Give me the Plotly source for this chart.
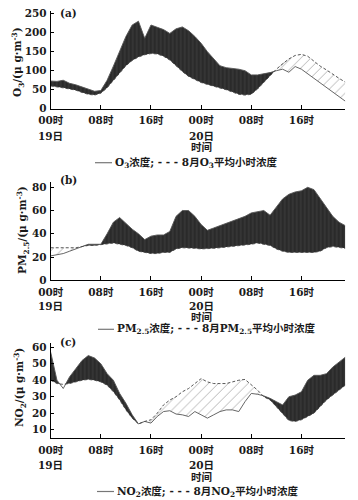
import numpy as np
import plotly.graph_objects as go

hours = list(range(48))

# O3 (μg·m-3)
o3_obs = [73, 72, 75, 67, 63, 57, 50, 46, 48, 75, 112, 150, 190, 220, 230, 185, 220, 214, 208, 198, 210, 215, 205, 190,
          172, 150, 130, 113, 108, 106, 104, 100, 89, 89, 92, 95, 100, 104, 96, 111, 104, 92, 80, 69, 57, 45, 33, 20]
o3_avg = [60, 58, 55, 52, 49, 43, 38, 36, 41, 55, 75, 95, 113, 127, 136, 142, 145, 144, 138, 128, 112, 98, 85, 76,
          69, 64, 60, 55, 50, 44, 38, 36, 38, 52, 70, 88, 104, 118, 131, 140, 143, 138, 125, 112, 102, 90, 80, 70]

# PM2.5
pm_obs = [21, 22, 23, 25, 27, 29, 31, 31, 31, 40, 50, 54, 49, 44, 40, 35, 38, 39, 39, 42, 55, 60, 60, 55,
          48, 43, 45, 47, 49, 51, 53, 55, 58, 59, 60, 56, 63, 70, 74, 76, 77, 80, 78, 70, 62, 55, 50, 47]
pm_avg = [28, 28, 28, 28, 28, 29, 30, 30, 30.5, 31, 32, 31, 30, 28, 25, 24, 23, 23, 24, 24, 27, 28, 28, 27.5,
          27, 27, 27.5, 28, 28.5, 29, 29.5, 30, 31, 32, 31, 30, 27, 25, 24, 24, 23.5, 24, 24, 25, 28, 29, 28, 27.5]

# NO2
no2_obs = [57, 40, 35, 42, 47, 52, 55, 53.5, 50, 44, 40, 32, 26, 19, 13.5, 15, 14, 18, 21, 21.5, 19.5, 19, 18, 21,
           19, 17, 19, 21, 22, 22, 21, 27, 32, 31.5, 30.5, 29, 27, 25, 30, 31, 33, 40, 43, 43, 44, 48, 51, 54]
no2_avg = [40, 38, 37.5, 38, 39, 40, 40.5, 40, 39, 37, 33, 28, 22, 17, 13.5, 15, 16, 20, 25, 28, 30, 33, 35, 38,
           41, 39, 38, 38, 38, 39, 40, 40.5, 37.5, 34, 30, 28, 24, 20, 15.5, 15, 16, 18, 20, 24, 28, 31, 34, 37]

tick_vals = [0, 8, 16, 24, 32, 40, 47]
tick_text = ["00时", "08时", "16时", "00时", "08时", "16时", ""]
day_labels = [(0, "19日"), (24, "20日")]

OFF = 8                      # page body margin of the html page
W, H = 358 - OFF, 500 - OFF  # figure fills the rest of the window
X0, X1 = 50.7, 345.3         # plot left / right in window pixels

FONT = "DejaVu Serif, Noto Sans CJK SC, serif"


def px(x):
    return (x - OFF) / W


def py(y):
    return 1 - (y - OFF) / H


def split_fill(x, obs, avg):
    xs, o, a = [], [], []
    for i in range(len(x)):
        if i > 0:
            d0 = obs[i - 1] - avg[i - 1]
            d1 = obs[i] - avg[i]
            if d0 * d1 < 0:
                t = d0 / (d0 - d1)
                xc = x[i - 1] + t * (x[i] - x[i - 1])
                yc = avg[i - 1] + t * (avg[i] - avg[i - 1])
                xs.append(xc); o.append(yc); a.append(yc)
        xs.append(x[i]); o.append(obs[i]); a.append(avg[i])
    o = np.array(o, float); a = np.array(a, float)
    return xs, a, np.maximum(o, a), np.minimum(o, a)


panels = [
    dict(obs=o3_obs, avg=o3_avg, yr=[0, 256], yt=[0, 50, 100, 150, 200, 250], bottom=108.8, top=11.3,
         label="(a)", label_y=13, ytitle="O<sub>3</sub>/(μ g·m<sup>-3</sup>)", ytitle_x=18, ytitle_y=62,
         day_y=136, xt_y=147, leg_y=162.7, leg_x0=95, leg_x1=112,
         leg="O<sub>3</sub>浓度; - - - 8月O<sub>3</sub>平均小时浓度"),
    dict(obs=pm_obs, avg=pm_avg, yr=[0, 85], yt=[0, 20, 40, 60, 80], bottom=280.3, top=181.5,
         label="(b)", label_y=180, ytitle="PM<sub>2.5</sub>/(μ g·m<sup>-3</sup>)", ytitle_x=23, ytitle_y=230,
         day_y=306, xt_y=317, leg_y=329.3, leg_x0=98, leg_x1=114,
         leg="PM<sub>2.5</sub>浓度; - - - 8月PM<sub>2.5</sub>平均小时浓度"),
    dict(obs=no2_obs, avg=no2_avg, yr=[5, 62.5], yt=[10, 20, 30, 40, 50, 60], bottom=437.9, top=343.2,
         label="(c)", label_y=341.7, ytitle="NO<sub>2</sub>/(μ g·m<sup>-3</sup>)", ytitle_x=20, ytitle_y=388,
         day_y=465, xt_y=476.8, leg_y=491.5, leg_x0=97, leg_x1=114,
         leg="NO<sub>2</sub>浓度; - - - 8月NO<sub>2</sub>平均小时浓度"),
]

fig = go.Figure()
dark = dict(shape="|", bgcolor="#2a2a2a", fgcolor="#585858", size=4, solidity=0.25)
hatch = dict(shape="/", bgcolor="rgba(255,255,255,0)", fgcolor="#555555", size=7, solidity=0.12)

layout = dict(width=W, height=H, margin=dict(l=0, r=0, t=0, b=0, autoexpand=False),
              paper_bgcolor="white", plot_bgcolor="white", showlegend=False,
              font=dict(family=FONT, size=10, color="#1a1a1a"))
annotations = []
shapes = []
TXT = dict(family=FONT, size=10.5, color="#1a1a1a")
TICK = dict(family=FONT, size=10.5, color="#1a1a1a", weight="bold")

for k, p in enumerate(panels):
    sfx = "" if k == 0 else str(k + 1)
    xa, ya = "x" + sfx, "y" + sfx
    xs, a, hi, lo = split_fill(hours, p["obs"], p["avg"])
    common = dict(xaxis=xa, yaxis=ya, mode="lines", hoverinfo="skip")
    fig.add_trace(go.Scatter(x=xs, y=a, line=dict(width=0), **common))
    fig.add_trace(go.Scatter(x=xs, y=hi, line=dict(width=0), fill="tonexty",
                             fillcolor="#2a2a2a", fillpattern=dark, **common))
    fig.add_trace(go.Scatter(x=xs, y=lo, line=dict(width=0), **common))
    fig.add_trace(go.Scatter(x=xs, y=a, line=dict(width=0), fill="tonexty",
                             fillcolor="rgba(255,255,255,0)", fillpattern=hatch, **common))
    fig.add_trace(go.Scatter(x=hours, y=p["obs"], line=dict(color="#555555", width=0.9), **common))
    fig.add_trace(go.Scatter(x=hours, y=p["avg"], line=dict(color="#444444", width=0.9, dash="3px,2px"), **common))

    layout["xaxis" + sfx] = dict(domain=[px(X0), px(X1)], anchor=ya, range=[0, 47], automargin=False,
                                 tickvals=tick_vals, ticktext=tick_text, ticklabeloverflow="allow",
                                 ticks="inside", ticklen=4, tickcolor="black", tickwidth=1,
                                 showline=True, linecolor="black", linewidth=1, ticklabelstandoff=2,
                                 showgrid=False, zeroline=False, tickfont=TICK)
    layout["yaxis" + sfx] = dict(domain=[py(p["bottom"]), py(p["top"])], anchor=xa, automargin=False,
                                 range=p["yr"], tickvals=p["yt"], ticklabeloverflow="allow",
                                 ticks="inside", ticklen=3, tickcolor="black", tickwidth=1,
                                 showline=True, linecolor="black", linewidth=1,
                                 showgrid=False, zeroline=False, ticklabelstandoff=1, tickfont=TICK)

    for hv, lab in day_labels:
        annotations.append(dict(text="<b>" + lab + "</b>", x=hv, xref=xa, y=py(p["day_y"]), yref="paper",
                                xanchor="center", yanchor="middle", showarrow=False, font=TXT))
    annotations.append(dict(text="<b>" + p["label"] + "</b>", x=px(58), y=py(p["label_y"]),
                            xref="paper", yref="paper", xanchor="left", yanchor="middle",
                            showarrow=False, font=TXT))
    annotations.append(dict(text="<b>" + p["ytitle"] + "</b>", x=px(p["ytitle_x"]), y=py(p["ytitle_y"]),
                            xref="paper", yref="paper", xanchor="center", yanchor="middle", textangle=-90,
                            showarrow=False, font=TXT))
    annotations.append(dict(text="<b>时间</b>", x=24, xref=xa, y=py(p["xt_y"]), yref="paper",
                            xanchor="center", yanchor="middle", showarrow=False, font=TXT))
    annotations.append(dict(text="<b>" + p["leg"] + "</b>", x=px(p["leg_x1"] + 1), y=py(p["leg_y"]),
                            xref="paper", yref="paper", xanchor="left", yanchor="middle", showarrow=False,
                            font=TXT))
    shapes.append(dict(type="line", xref="paper", yref="paper",
                       x0=px(p["leg_x0"]), x1=px(p["leg_x1"]),
                       y0=py(p["leg_y"]), y1=py(p["leg_y"]),
                       line=dict(color="#777777", width=1.2)))

layout["annotations"] = annotations
layout["shapes"] = shapes
fig.update_layout(**layout)
fig.write_html("out.html")
